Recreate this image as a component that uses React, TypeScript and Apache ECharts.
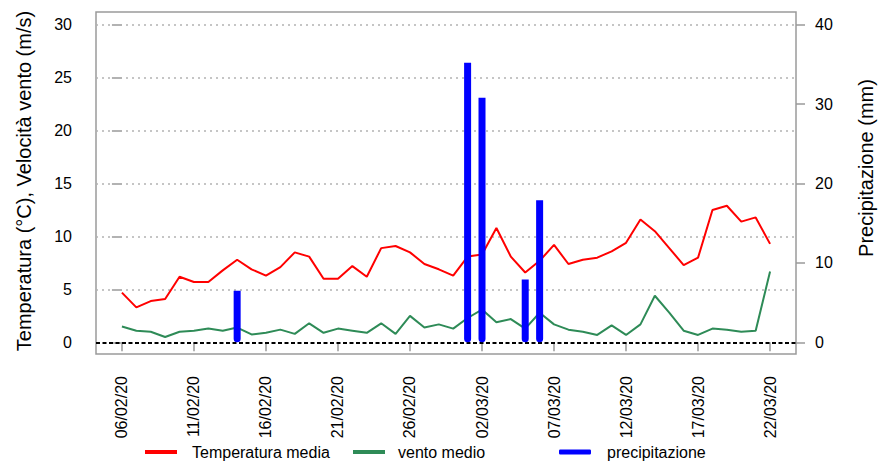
import React, { useEffect, useRef } from "react";
import * as echarts from "echarts";

const dates = [
  "06/02/20", "07/02/20", "08/02/20", "09/02/20", "10/02/20", "11/02/20", "12/02/20", "13/02/20",
  "14/02/20", "15/02/20", "16/02/20", "17/02/20", "18/02/20", "19/02/20", "20/02/20", "21/02/20",
  "22/02/20", "23/02/20", "24/02/20", "25/02/20", "26/02/20", "27/02/20", "28/02/20", "29/02/20",
  "01/03/20", "02/03/20", "03/03/20", "04/03/20", "05/03/20", "06/03/20", "07/03/20", "08/03/20",
  "09/03/20", "10/03/20", "11/03/20", "12/03/20", "13/03/20", "14/03/20", "15/03/20", "16/03/20",
  "17/03/20", "18/03/20", "19/03/20", "20/03/20", "21/03/20", "22/03/20",
];

const temperatura = [
  4.7, 3.3, 3.9, 4.1, 6.2, 5.7, 5.7, 6.8, 7.8, 6.9, 6.3, 7.1,
  8.5, 8.1, 6.0, 6.0, 7.2, 6.2, 8.9, 9.1, 8.5, 7.4, 6.9, 6.3,
  8.1, 8.3, 10.8, 8.1, 6.6, 7.7, 9.2, 7.4, 7.8, 8.0, 8.6, 9.4,
  11.6, 10.5, 8.9, 7.3, 8.0, 12.5, 12.9, 11.4, 11.8, 9.3,
];

const vento = [
  1.5, 1.1, 1.0, 0.5, 1.0, 1.1, 1.3, 1.1, 1.4, 0.75, 0.9, 1.2,
  0.8, 1.8, 0.9, 1.3, 1.1, 0.9, 1.8, 0.8, 2.5, 1.4, 1.7, 1.3,
  2.3, 3.1, 1.9, 2.2, 1.3, 2.8, 1.7, 1.2, 1.0, 0.7, 1.6, 0.7,
  1.7, 4.4, 2.8, 1.1, 0.7, 1.3, 1.2, 1.0, 1.1, 6.7,
];

const precipitazione = [
  0, 0, 0, 0, 0, 0, 0, 0, 6.5, 0, 0, 0,
  0, 0, 0, 0, 0, 0, 0, 0, 0, 0, 0, 0,
  35.2, 30.8, 0, 0, 7.9, 17.9, 0, 0, 0, 0, 0, 0,
  0, 0, 0, 0, 0, 0, 0, 0, 0, 0,
];

const xTickIndices = [0, 5, 10, 15, 20, 25, 30, 35, 40, 45];
const leftTicks = [0, 5, 10, 15, 20, 25, 30];
const rightTicks = [0, 10, 20, 30, 40];

const FONT = "'Liberation Sans', Arial, Helvetica, sans-serif";

export default function App() {
  const ref = useRef<HTMLDivElement>(null);

  useEffect(() => {
    if (!ref.current) return;
    const chart = echarts.init(ref.current, null, { renderer: "svg" });

    const toXY = (arr: number[]) => arr.map((v, i) => [i, v]);

    const gridLineData: any[] = leftTicks
      .filter((v) => v > 0)
      .map((v) => ({
        yAxis: v,
        lineStyle: { color: "#b3b3b3", type: [2, 4], width: 1.5 },
      }));
    gridLineData.push({
      yAxis: 0,
      lineStyle: { color: "#000000", type: [4, 2.5], width: 2 },
    });

    const legendText = (pad: number) => ({
      fontSize: 16,
      color: "#000",
      fontFamily: FONT,
      padding: [0, 0, 0, pad],
    });

    const option: any = {
      animation: false,
      textStyle: { fontFamily: FONT },
      grid: {
        left: 96,
        right: 83,
        top: 12,
        bottom: 109,
        show: true,
        borderColor: "#9a9a9a",
        borderWidth: 1.5,
        backgroundColor: "transparent",
        containLabel: false,
        outerBoundsMode: "none",
      },
      legend: [
        {
          data: ["Temperatura media"],
          left: 145,
          top: 444,
          padding: 0,
          icon: "rect",
          itemWidth: 32,
          itemHeight: 4,
          textStyle: legendText(10),
          selectedMode: false,
        },
        {
          data: ["vento medio"],
          left: 353,
          top: 444,
          padding: 0,
          icon: "rect",
          itemWidth: 32,
          itemHeight: 4,
          textStyle: legendText(8),
          selectedMode: false,
        },
        {
          data: ["precipitazione"],
          left: 559,
          top: 444,
          padding: 0,
          icon: "roundRect",
          itemWidth: 32,
          itemHeight: 5,
          textStyle: legendText(11),
          selectedMode: false,
        },
      ],
      xAxis: {
        type: "value",
        min: -1.8,
        max: 46.8,
        axisLine: { show: false },
        splitLine: { show: false },
        axisTick: {
          show: true,
          customValues: xTickIndices,
          length: 9,
          lineStyle: { color: "#9a9a9a", width: 1.5 },
        },
        axisLabel: {
          customValues: xTickIndices,
          formatter: (v: number) => dates[v] ?? "",
          rotate: 90,
          margin: 22,
          fontSize: 16,
          color: "#000",
          fontFamily: FONT,
        },
      },
      yAxis: [
        {
          type: "value",
          min: -1.1,
          max: 31.2,
          position: "left",
          axisLine: { show: false },
          splitLine: { show: false },
          axisTick: {
            show: true,
            customValues: leftTicks,
            length: 10,
            lineStyle: { color: "#9a9a9a", width: 1.5 },
          },
          axisLabel: {
            customValues: leftTicks,
            margin: 24,
            fontSize: 16,
            color: "#000",
            fontFamily: FONT,
          },
        },
        {
          type: "value",
          min: -1.1 * (40 / 30),
          max: 31.2 * (40 / 30),
          position: "right",
          axisLine: { show: false },
          splitLine: { show: false },
          axisTick: {
            show: true,
            customValues: rightTicks,
            length: 9,
            lineStyle: { color: "#9a9a9a", width: 1.5 },
          },
          axisLabel: {
            customValues: rightTicks,
            margin: 19,
            fontSize: 16,
            color: "#000",
            fontFamily: FONT,
          },
        },
      ],
      graphic: [
        {
          type: "text",
          x: 24,
          y: 181,
          rotation: Math.PI / 2,
          style: {
            text: "Temperatura (°C), Velocità vento (m/s)",
            font: `20px ${FONT}`,
            fill: "#000",
            align: "center",
            verticalAlign: "middle",
          },
        },
        {
          type: "text",
          x: 866,
          y: 168,
          rotation: Math.PI / 2,
          style: {
            text: "Precipitazione (mm)",
            font: `20px ${FONT}`,
            fill: "#000",
            align: "center",
            verticalAlign: "middle",
          },
        },
      ],
      series: [
        {
          name: "Temperatura media",
          type: "line",
          yAxisIndex: 0,
          data: toXY(temperatura),
          showSymbol: false,
          symbol: "none",
          color: "#ff0000",
          lineStyle: { color: "#ff0000", width: 2 },
          z: 3,
          markLine: {
            silent: true,
            symbol: ["none", "none"],
            label: { show: false },
            data: gridLineData,
            z: 1,
          },
        },
        {
          name: "vento medio",
          type: "line",
          yAxisIndex: 0,
          data: toXY(vento),
          showSymbol: false,
          symbol: "none",
          color: "#2e8b57",
          lineStyle: { color: "#2e8b57", width: 2 },
          z: 3,
        },
        {
          name: "precipitazione",
          type: "bar",
          yAxisIndex: 1,
          data: toXY(precipitazione),
          barWidth: 7,
          color: "#0000ff",
          itemStyle: { color: "#0000ff", borderRadius: [0, 0, 3.5, 3.5] },
          z: 5,
        },
      ],
    };

    chart.setOption(option);
    return () => chart.dispose();
  }, []);

  return (
    <div
      ref={ref}
      style={{ position: "fixed", left: 0, top: 0, width: 879, height: 463, background: "#fff" }}
    />
  );
}
